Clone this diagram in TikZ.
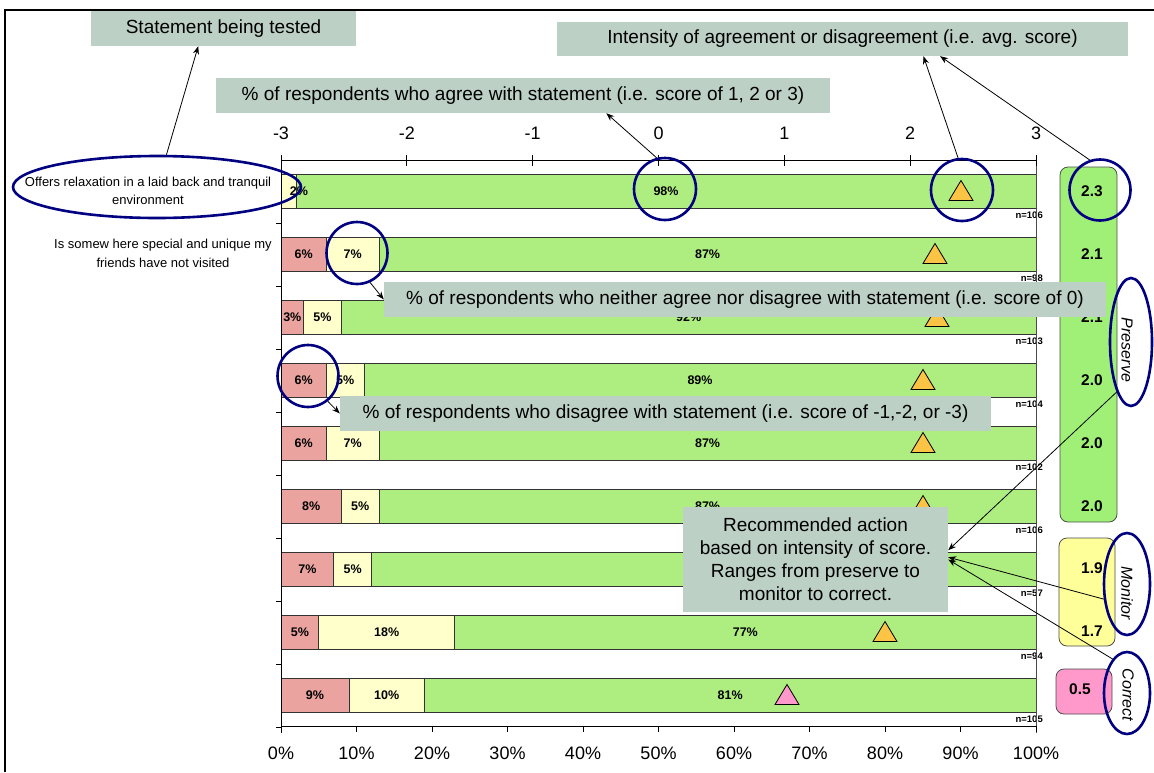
\documentclass[tikz,border=0pt]{standalone}
\usepackage{fontspec}
\setmainfont{Liberation Sans}
\usetikzlibrary{shapes.geometric,arrows.meta,positioning}
\definecolor{notegray}{RGB}{188,208,198}
\definecolor{disagreered}{RGB}{234,163,158}
\definecolor{neutralyellow}{RGB}{255,255,204}
\definecolor{agreegreen}{RGB}{174,238,128}
\definecolor{preservegreen}{RGB}{160,240,120}
\definecolor{monitoryellow}{RGB}{255,255,153}
\definecolor{correctpink}{RGB}{255,153,204}
\definecolor{markerorange}{RGB}{252,196,68}
\definecolor{ringblue}{RGB}{0,0,128}

\begin{document}
\begin{tikzpicture}[
    x=1pt, y=-1pt,
    note/.style={fill=notegray, inner sep=0pt, align=center, font=\fontsize{19}{23}\selectfont},
    ring/.style={ellipse, draw=ringblue, line width=2.6pt, inner sep=0pt},
    seg/.style={draw=black!80, line width=0.8pt},
    pct/.style={font=\fontsize{12.5}{14}\selectfont\bfseries},
    nlab/.style={font=\fontsize{9.5}{10}\selectfont\bfseries, anchor=east, inner sep=0pt},
    panel/.style={draw=black!70, line width=0.8pt, rounded corners=8pt},
    score/.style={font=\fontsize{15.5}{18}\selectfont\bfseries},
    actionlabel/.style={rotate=-90, font=\fontsize{16}{18}\selectfont\itshape},
    tick label/.style={font=\fontsize{18}{20}\selectfont},
    statement/.style={align=center, font=\fontsize{13}{18.5}\selectfont},
    arrow/.style={-{Stealth[length=8pt,width=6pt]}, line width=0.8pt}
]
    \useasboundingbox (0,0) rectangle (1154,772);
    \draw[line width=2pt] (5,772) -- (5,10) -- (1154,10);

    % bars: row / disagree / neutral / marker x / marker colour / n
    \foreach \k/\rd/\ye/\tx/\tc/\nn in {1/0/2/961/markerorange/106, 2/6/7/935/markerorange/98,
        3/3/5/937/markerorange/103, 4/6/5/923/markerorange/104, 5/6/7/923/markerorange/102,
        6/8/5/923/markerorange/106, 7/7/5/0/markerorange/57, 8/5/18/885/markerorange/94,
        9/9/10/787/correctpink/105} {
        \pgfmathsetmacro{\yc}{128.5+63*\k}
        \pgfmathsetmacro{\xa}{281+7.55*\rd}
        \pgfmathsetmacro{\xb}{281+7.55*(\rd+\ye)}
        \pgfmathtruncatemacro{\gr}{100-\rd-\ye}
        \draw[seg, fill=agreegreen] (\xb,\yc-17) rectangle (1036,\yc+17);
        \draw[seg, fill=neutralyellow] (\xa,\yc-17) rectangle (\xb,\yc+17);
        \ifnum\rd>0
            \draw[seg, fill=disagreered] (281,\yc-17) rectangle (\xa,\yc+17);
            \node[pct] (red\k) at ({(281+\xa)/2},\yc) {\rd\%};
        \fi
        \node[pct] (yel\k) at ({max((\xa+\xb)/2,299)},\yc) {\ye\%};
        \ifnum\tx>0
            \node[pct] (grn\k) at ({(\xb+1036)/2},\yc) {\gr\%};
            \draw[line width=0.8pt, fill=\tc] (\tx-12,\yc+9) -- (\tx+12,\yc+9) -- (\tx,\yc-11) -- cycle;
        \fi
        \node[nlab] (n\k) at (1043,\yc+24) {n=\nn};
    }

    % axes
    \draw[line width=1pt] (281,160) -- (1036,160);
    \draw[line width=1pt] (281,726) -- (1036,726);
    \draw[line width=1pt] (281,155) -- (281,733);
    \draw[line width=1pt, black!70] (1036,160) -- (1036,733);
    \foreach \v [count=\i] in {-3,...,3} {
        \draw[line width=1pt] ({281+755*(\v+3)/6},155) -- ++(0,11);
        \node[tick label] (scale\i) at ({281+755*(\v+3)/6},133) {\v};
    }
    \foreach \p in {0,10,...,100} {
        \draw[line width=1pt] ({281+7.55*\p},726) -- ++(0,6);
        \node[tick label] (share\p) at ({281+7.55*\p},753) {\p\%};
    }
    \foreach \j in {1,...,9}
        \draw[line width=1pt] (276,{160+63*\j}) -- (281,{160+63*\j});

    \node[statement] (stmt1) at (148,191) {Offers relaxation in a laid back and tranquil\\environment};
    \node[statement] (stmt2) at (163,253.5) {Is somew here special and unique my\\friends have not visited};

    % recommended action column
    \node[panel, fill=preservegreen, minimum width=57, minimum height=355] (preservebox) at (1088.5,344.5) {};
    \node[score] (s1) at (1092,191.5) {2.3};
    \node[score] (s2) at (1092,254.5) {2.1};
    \node[score] (s3) at (1092,317.5) {2.1};
    \node[score] (s4) at (1092,380.5) {2.0};
    \node[score] (s5) at (1092,443.5) {2.0};
    \node[score] (s6) at (1092,506.5) {2.0};
    \node[panel, fill=monitoryellow, minimum width=56, minimum height=108] (monitorbox) at (1087,592) {};
    \node[score] (s7) at (1092,568) {1.9};
    \node[score] (s8) at (1092,631) {1.7};
    \node[panel, fill=correctpink, minimum width=56, minimum height=45] (correctbox) at (1084,691.5) {};
    \node[score] (s9) at (1080,689) {0.5};
    \node[actionlabel] (preserve) at (1127,350) {Preserve};
    \node[actionlabel] (monitor) at (1127,593) {Monitor};
    \node[actionlabel] (correct) at (1128,695) {Correct};

    % callouts
    \node[note, minimum width=265, minimum height=35] (stmt) at (223.5,28.5) {Statement being tested};
    \node[note, minimum width=571, minimum height=34] (intens) at (842.5,39) {Intensity of agreement or disagreement (i.e. avg. score)};
    \node[note, minimum width=614, minimum height=35] (agree) at (523,95.5) {\% of respondents who agree with statement (i.e. score of 1, 2 or 3)};
    \node[note, minimum width=722, minimum height=35] (neither) at (745,299.5) {\% of respondents who neither agree nor disagree with statement (i.e. score of 0)};
    \node[note, minimum width=651, minimum height=35] (disagree) at (665.5,413.5) {\% of respondents who disagree with statement (i.e. score of -1,-2, or -3)};
    \node[note, minimum width=265, minimum height=105] (rec) at (815.5,559.5) {Recommended action\\based on intensity of score.\\Ranges from preserve to\\monitor to correct.};

    % rings
    \node[ring, minimum width=288, minimum height=62] (ringStmt) at (157,187) {};
    \node[ring, minimum width=61, minimum height=62] (ring7) at (357,253) {};
    \node[ring, minimum width=61, minimum height=62] (ring6) at (308,376) {};
    \node[ring, minimum width=62, minimum height=62] (ring98) at (665,189) {};
    \node[ring, minimum width=62, minimum height=62] (ringTri) at (962,190) {};
    \node[ring, minimum width=61, minimum height=61] (ring23) at (1100,190) {};
    \node[ring, minimum width=42, minimum height=128] (ringPres) at (1131,342) {};
    \node[ring, minimum width=46, minimum height=102] (ringMon) at (1127,584) {};
    \node[ring, minimum width=46, minimum height=82] (ringCor) at (1127,693) {};

    \draw[arrow] (ringStmt) -- (stmt.215);
    \draw[arrow] (ring98.105) -- (agree.-12);
    \draw[arrow] (ringTri.97) -- (intens.-12.7);
    \draw[arrow] (ring23.109) -- (intens.-10.2);
    \draw[arrow] (ring7.-66) -- (neither.west);
    \draw[arrow] (ring6.-52) -- (disagree.west);
    \draw[arrow] (ringPres.254) -- (rec.4);
    \draw[arrow] (ringMon.213) -- (rec.1.5);
    \draw[arrow] (ringCor.113) -- (rec.east);
\end{tikzpicture}
\end{document}
